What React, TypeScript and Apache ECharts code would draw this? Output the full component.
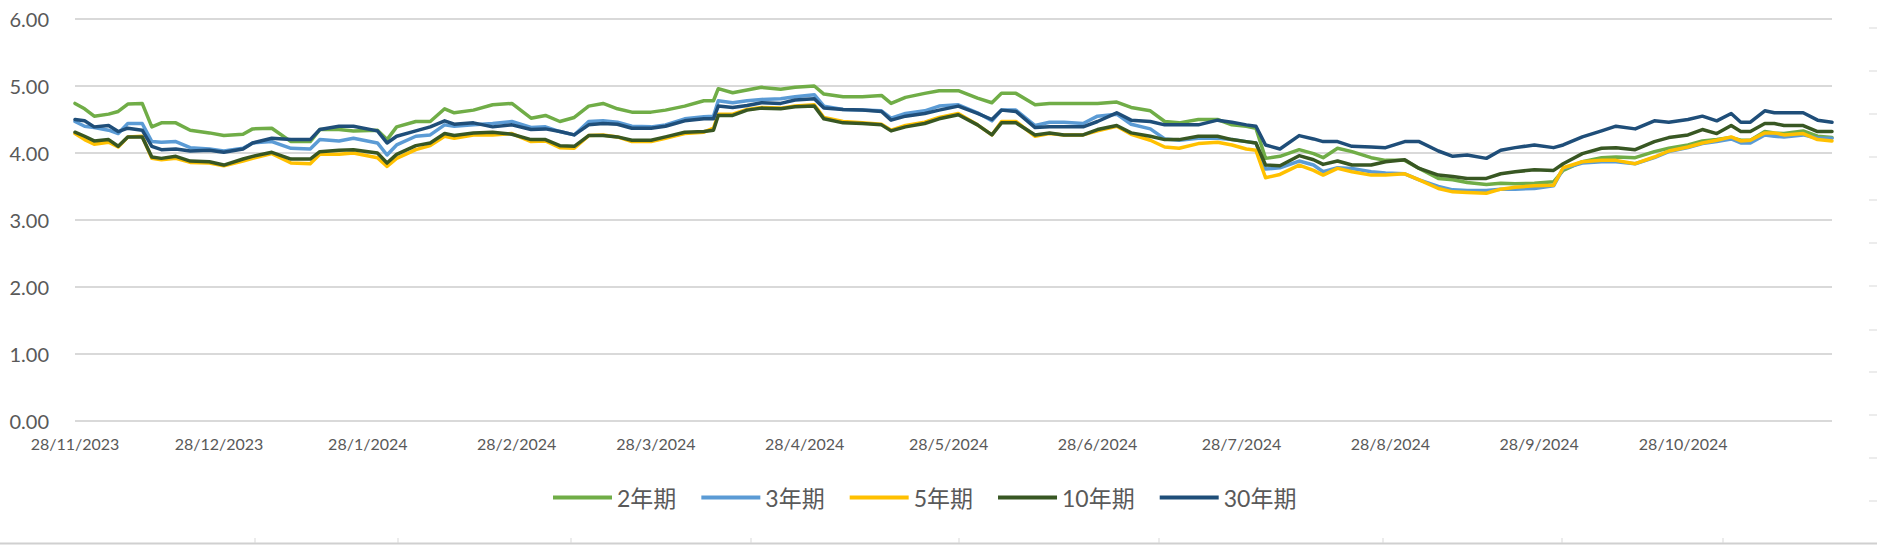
import React, { useEffect, useRef } from "react";
import * as echarts from "echarts";

// Day offsets from 28/11/2023
const START_UTC = Date.UTC(2023, 10, 28);
const days = [
  0, 2, 4, 7, 9, 11, 14, 16, 18, 21, 24, 28, 31, 35, 37, 41, 45, 49, 51, 55, 58, 63, 65, 67, 71, 74, 77, 79, 83, 87,
  91, 95, 98, 101, 104, 107, 110, 113, 116, 120, 123, 127, 131, 133, 134, 137, 140, 143, 147, 150, 154, 156, 160, 164, 168, 170, 173, 177, 180,
  184, 188, 191, 193, 196, 200, 203, 206, 210, 213, 217, 220, 224, 227, 230, 234, 238, 241, 244, 246, 248, 251, 255,
  258, 260, 263, 266, 270, 273, 277, 280, 284, 287, 290, 294, 297, 300, 304, 308, 310, 314, 318, 321, 325, 329, 332, 336, 339, 342, 345, 347, 349, 352, 354, 356, 360, 363, 366,
];

const seriesNames = ["2年期", "3年期", "5年期", "10年期", "30年期"];
const seriesColors = ["#70AD47", "#5B9BD5", "#FFC000", "#385723", "#1F4E79"];

const y2 = [
  4.74, 4.66, 4.55, 4.58, 4.62, 4.73, 4.74, 4.39, 4.45, 4.45, 4.34, 4.30, 4.26, 4.28, 4.36, 4.37, 4.17, 4.17, 4.35, 4.35, 4.33, 4.34, 4.20, 4.39, 4.47, 4.47, 4.66, 4.60, 4.64, 4.72,
  4.74, 4.52, 4.56, 4.47, 4.53, 4.70, 4.74, 4.66, 4.61, 4.61, 4.64, 4.70, 4.78, 4.78, 4.96, 4.90, 4.94, 4.98, 4.95, 4.98, 5.00, 4.88, 4.84, 4.84, 4.86, 4.74, 4.83, 4.89, 4.93,
  4.93, 4.82, 4.75, 4.89, 4.89, 4.72, 4.74, 4.74, 4.74, 4.74, 4.76, 4.68, 4.63, 4.47, 4.45, 4.50, 4.50, 4.42, 4.40, 4.37, 3.92, 3.95, 4.05,
  3.99, 3.93, 4.07, 4.02, 3.93, 3.89, 3.89, 3.77, 3.62, 3.60, 3.56, 3.53, 3.55, 3.54, 3.55, 3.57, 3.74, 3.87, 3.93, 3.94, 3.93, 4.02, 4.07, 4.12, 4.18, 4.20, 4.23, 4.19, 4.19, 4.32, 4.30, 4.29, 4.33, 4.25, 4.23,
];
const y3 = [
  4.47, 4.40, 4.38, 4.34, 4.29, 4.44, 4.44, 4.17, 4.16, 4.17, 4.08, 4.06, 4.03, 4.07, 4.15, 4.17, 4.07, 4.06, 4.20, 4.18, 4.22, 4.15, 3.97, 4.12, 4.25, 4.27, 4.42, 4.40, 4.42, 4.44,
  4.47, 4.38, 4.39, 4.32, 4.27, 4.47, 4.48, 4.46, 4.40, 4.39, 4.42, 4.51, 4.54, 4.55, 4.78, 4.75, 4.78, 4.80, 4.81, 4.84, 4.87, 4.70, 4.65, 4.64, 4.63, 4.52, 4.59, 4.63, 4.70,
  4.72, 4.60, 4.48, 4.64, 4.64, 4.41, 4.46, 4.46, 4.44, 4.55, 4.58, 4.43, 4.36, 4.21, 4.19, 4.22, 4.22, 4.20, 4.17, 4.15, 3.76, 3.78, 3.88,
  3.82, 3.72, 3.78, 3.77, 3.72, 3.70, 3.69, 3.60, 3.50, 3.45, 3.44, 3.44, 3.46, 3.46, 3.47, 3.51, 3.77, 3.85, 3.87, 3.87, 3.84, 3.93, 4.02, 4.08, 4.14, 4.17, 4.21, 4.15, 4.15, 4.27, 4.25, 4.24, 4.27, 4.22, 4.22,
];
const y5 = [
  4.29, 4.20, 4.13, 4.16, 4.09, 4.24, 4.25, 3.92, 3.90, 3.92, 3.86, 3.85, 3.81, 3.88, 3.92, 3.99, 3.85, 3.84, 3.98, 3.98, 4.00, 3.93, 3.80, 3.92, 4.05, 4.11, 4.25, 4.22, 4.27, 4.27,
  4.29, 4.17, 4.18, 4.08, 4.07, 4.26, 4.27, 4.24, 4.17, 4.17, 4.22, 4.29, 4.31, 4.37, 4.58, 4.58, 4.65, 4.68, 4.67, 4.70, 4.72, 4.53, 4.47, 4.45, 4.43, 4.34, 4.41, 4.46, 4.53,
  4.59, 4.42, 4.27, 4.47, 4.47, 4.25, 4.29, 4.27, 4.27, 4.33, 4.40, 4.28, 4.19, 4.09, 4.07, 4.14, 4.16, 4.12, 4.06, 4.04, 3.63, 3.68, 3.82,
  3.74, 3.67, 3.77, 3.72, 3.67, 3.67, 3.69, 3.60, 3.47, 3.42, 3.41, 3.40, 3.46, 3.49, 3.51, 3.52, 3.78, 3.87, 3.89, 3.89, 3.84, 3.94, 4.03, 4.09, 4.15, 4.19, 4.24, 4.18, 4.19, 4.30, 4.30, 4.27, 4.29, 4.20, 4.18,
];
const y10 = [
  4.31, 4.25, 4.18, 4.20, 4.10, 4.24, 4.24, 3.94, 3.92, 3.95, 3.88, 3.87, 3.82, 3.91, 3.95, 4.01, 3.91, 3.91, 4.02, 4.04, 4.05, 4.00, 3.85, 3.98, 4.11, 4.15, 4.29, 4.26, 4.30, 4.31,
  4.28, 4.20, 4.20, 4.11, 4.10, 4.26, 4.26, 4.24, 4.19, 4.19, 4.24, 4.31, 4.32, 4.34, 4.56, 4.56, 4.64, 4.67, 4.66, 4.69, 4.70, 4.51, 4.45, 4.44, 4.42, 4.33, 4.39, 4.44, 4.51,
  4.57, 4.42, 4.27, 4.45, 4.45, 4.27, 4.30, 4.27, 4.27, 4.35, 4.41, 4.30, 4.25, 4.20, 4.20, 4.25, 4.25, 4.20, 4.17, 4.15, 3.82, 3.81, 3.96,
  3.90, 3.83, 3.88, 3.82, 3.82, 3.87, 3.90, 3.77, 3.67, 3.65, 3.62, 3.62, 3.69, 3.72, 3.75, 3.74, 3.84, 3.99, 4.07, 4.08, 4.05, 4.17, 4.23, 4.27, 4.35, 4.29, 4.41, 4.32, 4.32, 4.44, 4.44, 4.41, 4.41, 4.32, 4.32,
];
const y30 = [
  4.50, 4.48, 4.39, 4.41, 4.32, 4.37, 4.34, 4.10, 4.05, 4.06, 4.03, 4.04, 4.01, 4.06, 4.15, 4.22, 4.20, 4.20, 4.35, 4.40, 4.40, 4.33, 4.15, 4.25, 4.33, 4.39, 4.48, 4.43, 4.45, 4.39,
  4.42, 4.35, 4.36, 4.32, 4.27, 4.42, 4.44, 4.43, 4.37, 4.37, 4.40, 4.48, 4.51, 4.51, 4.70, 4.68, 4.71, 4.75, 4.74, 4.79, 4.81, 4.67, 4.65, 4.64, 4.62, 4.49, 4.55, 4.59, 4.64,
  4.70, 4.59, 4.50, 4.64, 4.62, 4.38, 4.39, 4.39, 4.39, 4.47, 4.60, 4.49, 4.47, 4.42, 4.42, 4.42, 4.49, 4.46, 4.42, 4.40, 4.12, 4.06, 4.26,
  4.21, 4.17, 4.17, 4.10, 4.09, 4.08, 4.17, 4.17, 4.03, 3.95, 3.97, 3.92, 4.04, 4.08, 4.12, 4.08, 4.12, 4.24, 4.33, 4.40, 4.36, 4.48, 4.46, 4.50, 4.55, 4.48, 4.59, 4.46, 4.46, 4.63, 4.60, 4.60, 4.60, 4.49, 4.46,
];

// x-axis tick labels: the 28th of each month (day offsets)
const xTickDays = [0, 30, 61, 92, 121, 152, 182, 213, 243, 274, 305, 335];
const X_MAX = 366;
const yTicks = { min: 0, max: 6, interval: 1 };

const fmtDate = (off: number) => {
  const d = new Date(START_UTC + Math.round(off) * 86400000);
  return `${d.getUTCDate()}/${d.getUTCMonth() + 1}/${d.getUTCFullYear()}`;
};

const FONT = "Lato, 'Noto Sans CJK SC', sans-serif";

export default function App() {
  const ref = useRef<HTMLDivElement>(null);
  useEffect(() => {
    if (!ref.current) return;
    const chart = echarts.init(ref.current, null, { renderer: "svg" });
    const all = [y2, y3, y5, y10, y30];
    const bottomTicks = [255, 398, 571, 751, 959, 1159, 1383, 1562, 1723];
    const rightLines = [28, 71, 114, 157, 200, 243, 286, 330, 372, 415, 458, 501];
    chart.setOption({
      animation: false,
      backgroundColor: "#ffffff",
      grid: { left: 75, right: 45, top: 19, bottom: 124 },
      legend: {
        left: 548,
        top: 481,
        itemWidth: 59,
        itemHeight: 4,
        itemGap: 25,
        icon: "rect",
        data: seriesNames,
        textStyle: { fontSize: 23, fontFamily: FONT, color: "#595959" },
      },
      xAxis: {
        type: "value",
        min: 0,
        max: X_MAX,
        axisLine: { show: false },
        axisTick: { show: false },
        splitLine: { show: false },
        axisLabel: {
          customValues: xTickDays,
          formatter: (v: number) => fmtDate(v),
          fontSize: 16,
          fontFamily: FONT,
          color: "#595959",
          margin: 14,
        },
      },
      yAxis: {
        type: "value",
        min: yTicks.min,
        max: yTicks.max,
        interval: yTicks.interval,
        axisLine: { show: false },
        axisTick: { show: false },
        splitLine: { lineStyle: { color: "#D9D9D9", width: 1.8 } },
        axisLabel: {
          formatter: (v: number) => v.toFixed(2),
          fontSize: 20,
          fontFamily: FONT,
          color: "#595959",
          margin: 26,
        },
      },
      series: seriesNames.map((name, i) => ({
        name,
        type: "line",
        symbol: "none",
        color: seriesColors[i],
        lineStyle: { width: 3.5, color: seriesColors[i], cap: "round", join: "round" },
        data: days.map((d, j) => [d, all[i][j]]),
      })),
      graphic: [
        {
          type: "line",
          silent: true,
          shape: { x1: 0, y1: 543.5, x2: 1877, y2: 543.5 },
          style: { stroke: "#D0D0D0", lineWidth: 2 },
        },
        ...bottomTicks.map((x) => ({
          type: "line",
          silent: true,
          shape: { x1: x, y1: 538, x2: x, y2: 543 },
          style: { stroke: "#D9D9D9", lineWidth: 1 },
        })),
        ...rightLines.map((y) => ({
          type: "line",
          silent: true,
          shape: { x1: 1869, y1: y, x2: 1877, y2: y },
          style: { stroke: "#D9D9D9", lineWidth: 1 },
        })),
      ],
    });
    return () => chart.dispose();
  }, []);
  return (
    <div
      ref={ref}
      style={{ position: "absolute", left: 0, top: 0, width: 1877, height: 545, background: "#fff" }}
    />
  );
}
